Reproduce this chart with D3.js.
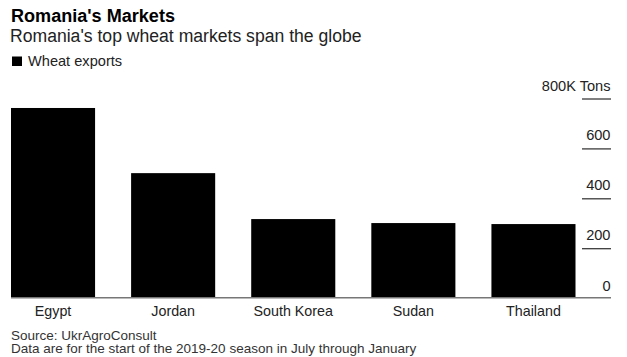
<!DOCTYPE html>
<html><head><meta charset="utf-8">
<script src="https://cdn.jsdelivr.net/npm/d3@7"></script>
<style>
html,body{margin:0;padding:0;background:#fff;}
svg{display:block;font-family:"Liberation Sans",Arial,sans-serif;}
</style></head>
<body>
<svg id="chart" width="627" height="357"></svg>
<script>
const categories = ["Egypt", "Jordan", "South Korea", "Sudan", "Thailand"];
const wheatExports = [760, 499, 315, 299, 295];
const yTicks = [0, 200, 400, 600, 800];
const yTickLabels = ["0", "200", "400", "600", "800K Tons"];

const svg = d3.select("#chart");
const baseY = 297.7;

const x = d3.scaleBand().domain(categories).range([11, 575.5]).paddingInner(0.3).paddingOuter(0);
const y = d3.scaleLinear().domain([0, 800]).range([baseY, 98]);

// title
svg.append("text").attr("x", 11).attr("y", 21.5).attr("font-size", 18).attr("font-weight", "bold").attr("fill", "#000")
  .attr("textLength", 164).attr("lengthAdjust", "spacingAndGlyphs").text("Romania's Markets");
svg.append("text").attr("x", 10).attr("y", 42).attr("font-size", 17.6).attr("fill", "#222").text("Romania's top wheat markets span the globe");
// legend
svg.append("rect").attr("x", 12).attr("y", 56.5).attr("width", 10).attr("height", 9.5).attr("fill", "#000");
svg.append("text").attr("x", 28).attr("y", 66).attr("font-size", 14.6).attr("fill", "#222").text("Wheat exports");

// y axis (right side)
const yAxis = d3.axisRight(y).tickValues(yTicks).tickSize(0).tickFormat((d,i)=>yTickLabels[i]);
const gy = svg.append("g").attr("transform", "translate(611,0)").call(yAxis);
gy.select(".domain").remove();
gy.selectAll(".tick line").remove();
gy.selectAll(".tick").each(function(d){
  const t = d3.select(this);
  if (d !== 0) t.append("line").attr("x1", -29).attr("x2", 0).attr("y1", 0.5).attr("y2", 0.5).attr("stroke", "#000").attr("stroke-width", 1);
  t.select("text").attr("x", -0.5).attr("dy", null).attr("y", d === 0 ? -7 : -8)
    .attr("text-anchor", "end").attr("font-size", 14.6).attr("fill", "#222").attr("font-family", "Liberation Sans, Arial, sans-serif");
});

// bars
svg.append("g").selectAll("rect").data(categories).join("rect")
  .attr("x", d => x(d)).attr("width", x.bandwidth())
  .attr("y", (d,i) => y(wheatExports[i])).attr("height", (d,i) => baseY - y(wheatExports[i]))
  .attr("fill", "#000");

// baseline
svg.append("line").attr("x1", 11).attr("x2", 611).attr("y1", baseY).attr("y2", baseY).attr("stroke", "#777").attr("stroke-width", 1.5);

// x axis labels
const xAxis = d3.axisBottom(x).tickSize(0);
const gx = svg.append("g").attr("transform", `translate(0,${baseY})`).call(xAxis);
gx.select(".domain").remove();
gx.selectAll(".tick text").attr("dy", null).attr("y", 18.5).attr("font-size", 14.3).attr("fill", "#222").attr("font-family", "Liberation Sans, Arial, sans-serif");

// footer
svg.append("text").attr("x", 11).attr("y", 339.5).attr("font-size", 13.5).attr("fill", "#333").text("Source: UkrAgroConsult");
svg.append("text").attr("x", 11).attr("y", 353).attr("font-size", 13.5).attr("fill", "#333").text("Data are for the start of the 2019-20 season in July through January");
</script>
</body></html>
